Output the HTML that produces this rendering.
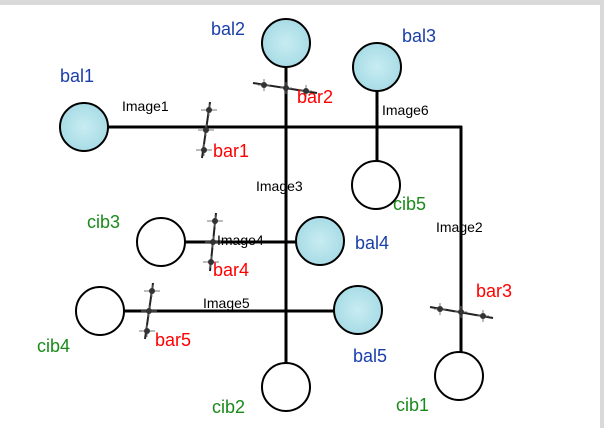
<!DOCTYPE html>
<html><head><style>
body{margin:0;width:604px;height:428px;background:#fff;overflow:hidden;position:relative;font-family:"Liberation Sans",sans-serif}
</style></head><body>
<svg width="604" height="428" style="position:absolute;left:0;top:0">
<defs><radialGradient id="g"><stop offset="0" stop-color="#c8ecf2"/><stop offset="1" stop-color="#a8dce6"/></radialGradient></defs>
<rect x="0" y="0" width="604" height="5" fill="#d9d9d9"/>
<rect x="600" y="0" width="4" height="428" fill="#d9d9d9"/>
<g stroke="#000" stroke-width="3" fill="none">
<line x1="108" y1="127" x2="462" y2="127"/>
<line x1="461" y1="126" x2="461" y2="352"/>
<line x1="286" y1="67" x2="286" y2="363"/>
<line x1="377" y1="91" x2="377" y2="161"/>
<line x1="185" y1="242" x2="296" y2="242"/>
<line x1="124" y1="311" x2="334" y2="311"/>
</g>
<g stroke="#222" stroke-width="2">
<line x1="210" y1="102" x2="202" y2="158"/>
<line x1="253" y1="83" x2="317" y2="93"/>
<line x1="430" y1="307" x2="493" y2="318"/>
<line x1="216" y1="213" x2="210" y2="271"/>
<line x1="153" y1="283" x2="145" y2="339"/>
</g>
<g stroke="#777" stroke-width="1">
<path d="M201 110h16M198 130h16M196 150h16M209 104v12M206 124v12M204 144v12"/>
<path d="M264 79v12M286 82v12M306 85v12M258 85h12M280 88h12M300 91h12"/>
<path d="M440 303v12M461 306v12M483 310v12M434 309h12M455 312h12M477 316h12"/>
<path d="M207 221h16M205 242h16M203 262h16M215 215v12M213 236v12M211 256v12"/>
<path d="M144 291h16M141 311h16M139 331h16M152 285v12M149 305v12M147 325v12"/>
</g>
<g fill="#333">
<circle cx="209" cy="110" r="3"/><circle cx="206" cy="130" r="3"/><circle cx="204" cy="150" r="3"/>
<circle cx="264" cy="85" r="3"/><circle cx="286" cy="88" r="3"/><circle cx="306" cy="91" r="3"/>
<circle cx="440" cy="309" r="3"/><circle cx="461" cy="312" r="3"/><circle cx="483" cy="316" r="3"/>
<circle cx="215" cy="221" r="3"/><circle cx="213" cy="242" r="3"/><circle cx="211" cy="262" r="3"/>
<circle cx="152" cy="291" r="3"/><circle cx="149" cy="311" r="3"/><circle cx="147" cy="331" r="3"/>
</g>
<g stroke="#000" stroke-width="2">
<circle cx="84" cy="127" r="24" fill="url(#g)"/>
<circle cx="286" cy="43" r="24" fill="url(#g)"/>
<circle cx="377" cy="67" r="24" fill="url(#g)"/>
<circle cx="320" cy="241" r="24" fill="url(#g)"/>
<circle cx="358" cy="310" r="24" fill="url(#g)"/>
<circle cx="376" cy="185" r="24" fill="#fff"/>
<circle cx="161" cy="242" r="24" fill="#fff"/>
<circle cx="100" cy="311" r="24" fill="#fff"/>
<circle cx="286" cy="387" r="24" fill="#fff"/>
<circle cx="459" cy="376" r="24" fill="#fff"/>
</g>
<g font-family="Liberation Sans,sans-serif" font-size="18">
<g fill="#1a3fa8">
<text x="60" y="82">bal1</text><text x="211" y="35">bal2</text><text x="402" y="42">bal3</text>
<text x="355" y="249">bal4</text><text x="353" y="362">bal5</text>
</g>
<g fill="#1a8a1a">
<text x="393" y="210">cib5</text><text x="87" y="228">cib3</text><text x="37" y="352">cib4</text>
<text x="212" y="413">cib2</text><text x="396" y="411">cib1</text>
</g>
<g fill="#f00">
<text x="213" y="157">bar1</text><text x="297" y="103">bar2</text><text x="476" y="297">bar3</text>
<text x="213" y="276">bar4</text><text x="155" y="346">bar5</text>
</g>
</g>
<g font-family="Liberation Sans,sans-serif" font-size="14" fill="#000">
<text x="122" y="111">Image1</text><text x="382" y="115">Image6</text><text x="256" y="191">Image3</text>
<text x="217" y="245">Image4</text><text x="436" y="232">Image2</text><text x="203" y="308">Image5</text>
</g>
</svg>
</body></html>
